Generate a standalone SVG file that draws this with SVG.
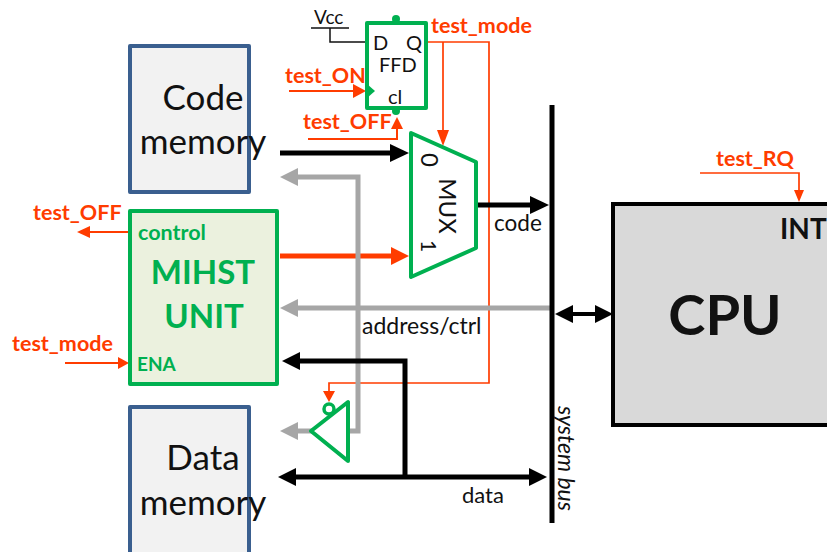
<svg xmlns="http://www.w3.org/2000/svg" width="827" height="552" viewBox="0 0 827 552">
<style>
text{font-family:"Lato","Open Sans","Liberation Sans",sans-serif;fill:#111}
.red{fill:#ff3c00;font-weight:700;font-size:21.5px}
.grn{fill:#00b050;font-weight:700}
.box{fill:#f2f2f2;stroke:#3a5f8f;stroke-width:4;stroke-linejoin:round}
.g{fill:none;stroke:#00b050;stroke-width:4;stroke-linejoin:round}
.m{font-size:35px;text-anchor:middle}
</style>
<g id="connectors" fill="none">
<path d="M311 28H349M330 28V42H367" stroke="#111" stroke-width="1.5"/>
<g stroke="#ff3c00" stroke-width="1.7">
<path d="M427 42H489V383H329V392"/>
<path d="M443 42V131"/>
<path d="M289 91H354" stroke-width="2"/>
<path d="M308 139H397V128" stroke-width="2"/>
<path d="M700 173H799V190"/>
<path d="M129 232H90" stroke-width="2"/>
<path d="M65 363H118" stroke-width="2"/>
</g>
<g fill="#ff3c00">
<path d="M323 391H335L329 402Z"/>
<path d="M437 130H449L443 146Z"/>
<path d="M353 84L366 91L353 98Z"/>
<path d="M391 129L397 117L403 129Z"/>
<path d="M794 190H804L799 202Z"/>
<path d="M90 226V238L77 232Z"/>
<path d="M118 357V369L129 363Z"/>
</g>
<path d="M280 153H392" stroke="#000" stroke-width="5"/>
<path d="M390 144L409 153L390 162Z" fill="#000"/>
<path d="M280 256H392" stroke="#ff3c00" stroke-width="5"/>
<path d="M391 247L409 256L391 265Z" fill="#ff3c00"/>
<path d="M477 205H532" stroke="#000" stroke-width="5"/>
<path d="M530 196L549 205L530 214Z" fill="#000"/>
<g stroke="#a6a6a6" stroke-width="5">
<path d="M295 177H358V431H346"/>
<path d="M295 431H312"/>
<path d="M295 308H550"/>
</g>
<g fill="#a6a6a6">
<path d="M298 168L280 177L298 186Z"/>
<path d="M298 422L280 431L298 440Z"/>
<path d="M298 299L280 308L298 317Z"/>
</g>
<g stroke="#000" stroke-width="5" fill="none">
<path d="M298 361H405V477"/>
<path d="M295 477H532"/>
<path d="M570 314H596" stroke-width="4"/>
</g>
<g fill="#000">
<path d="M300 352L282 361L300 370Z"/>
<path d="M296 468L278 477L296 486Z"/>
<path d="M529 468L547 477L529 486Z"/>
<path d="M573 305L555 314L573 323Z"/>
<path d="M595 305L613 314L595 323Z"/>
</g>
<path d="M552 105V523" stroke="#000" stroke-width="5"/>
</g>
<g id="code-memory">
<rect class="box" x="130" y="46" width="119" height="146"/>
<text class="m" x="203" y="110">Code</text>
<text class="m" x="203" y="154">memory</text>
</g>
<g id="mihst-unit">
<rect x="130" y="211" width="147" height="173" fill="#ebf1de" stroke="#00b050" stroke-width="4" stroke-linejoin="round"/>
<text class="grn" x="138" y="240" font-size="21.5">control</text>
<text class="grn" x="203" y="284" font-size="33" text-anchor="middle">MIHST</text>
<text class="grn" x="204" y="328" font-size="33" text-anchor="middle">UNIT</text>
<text class="grn" x="137" y="371" font-size="19">ENA</text>
</g>
<g id="data-memory">
<rect class="box" x="130" y="407" width="119" height="150"/>
<text class="m" x="203" y="470">Data</text>
<text class="m" x="203" y="515">memory</text>
</g>
<g id="ffd">
<rect class="g" x="367" y="23" width="59" height="85"/>
<circle cx="396" cy="19" r="4" fill="#00b050"/>
<circle cx="396" cy="111" r="4" fill="#00b050"/>
<path d="M367 84L375 91L367 98Z" fill="#00b050"/>
<text x="373" y="50" font-size="20">D</text>
<text x="406" y="50" font-size="20">Q</text>
<text x="379" y="72" font-size="20">FFD</text>
<text x="388" y="104" font-size="20">cl</text>
</g>
<g id="vcc-label"><text x="314" y="24" font-size="19">Vcc</text></g>
<g id="mux">
<path class="g" d="M411 133L476 162V248L411 277Z" fill="#fff"/>
<text font-size="24" transform="translate(421 160) rotate(90)" text-anchor="middle">0</text>
<text font-size="24" transform="translate(439 206) rotate(90)" text-anchor="middle">MUX</text>
<text font-size="21" transform="translate(421 246) rotate(90)" text-anchor="middle">1</text>
</g>
<g id="inverter">
<path class="g" d="M311 431L348 402V461Z" fill="#fff"/>
<circle cx="329" cy="409" r="5" fill="#fff" stroke="#00b050" stroke-width="3.5"/>
</g>
<g id="cpu">
<rect x="613" y="204" width="220" height="221" fill="#d9d9d9" stroke="#000" stroke-width="4"/>
<text x="725" y="335" font-size="56" font-weight="700" text-anchor="middle" fill="#000">CPU</text>
<text x="780" y="239" font-size="28" font-weight="700">INT</text>
</g>
<g id="labels">
<text class="red" x="431" y="33">test_mode</text>
<text class="red" x="285" y="83">test_ON</text>
<text class="red" x="303" y="129">test_OFF</text>
<text class="red" x="716" y="166">test_RQ</text>
<text class="red" x="33" y="220">test_OFF</text>
<text class="red" x="12" y="351">test_mode</text>
<text x="494" y="231" font-size="22.5">code</text>
<text x="362" y="334" font-size="23">address/ctrl</text>
<text x="462" y="503" font-size="22">data</text>
<text font-size="23" font-style="italic" transform="translate(558 406) rotate(90)">system bus</text>
</g>
</svg>
